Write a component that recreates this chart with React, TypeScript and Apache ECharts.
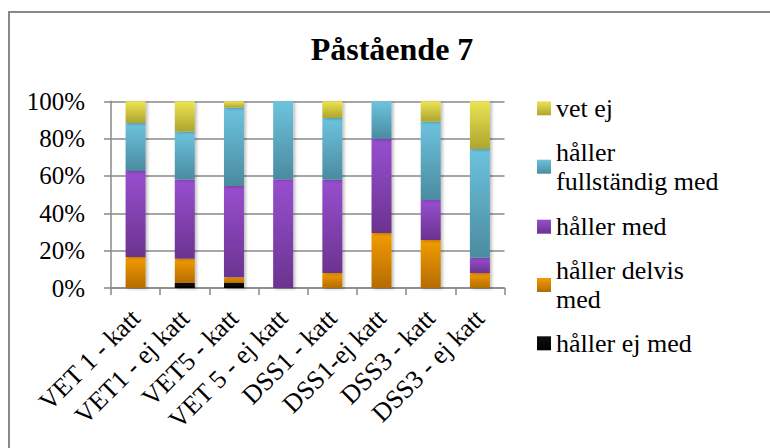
import React, { useEffect, useRef } from "react";
import * as echarts from "echarts";

const categories = [
  "VET 1 - katt",
  "VET1 - ej katt",
  "VET5 - katt",
  "VET 5 - ej katt",
  "DSS1 - katt",
  "DSS1-ej katt",
  "DSS3 - katt",
  "DSS3 - ej katt",
];

const seriesNames = [
  "håller ej med",
  "håller delvis med",
  "håller med",
  "håller fullständig med",
  "vet ej",
];

const hallerEjMed = [0, 2.7, 2.7, 0, 0, 0, 0, 0];
const hallerDelvisMed = [16.6, 12.9, 3.0, 0, 8.0, 29.5, 25.7, 8.0];
const hallerMed = [46.1, 42.5, 48.9, 58.2, 50.0, 50.3, 21.4, 8.2];
const hallerFullstandigMed = [25.7, 25.7, 42.0, 41.8, 33.1, 20.2, 42.0, 58.3];
const vetEj = [11.6, 16.3, 3.4, 0, 8.9, 0, 10.9, 25.5];

const yTicks = [0, 20, 40, 60, 80, 100];

const FONT = "Liberation Serif";

function grad(top: string, bottom: string) {
  return new echarts.graphic.LinearGradient(0, 0, 0, 1, [
    { offset: 0, color: top },
    { offset: 1, color: bottom },
  ]);
}

export default function App() {
  const ref = useRef<HTMLDivElement>(null);
  useEffect(() => {
    if (!ref.current) return;
    const chart = echarts.init(ref.current, undefined, { renderer: "svg" });
    const colors = [
      grad("#111111", "#000000"),
      grad("#f39c00", "#b56c00"),
      grad("#984fd0", "#6b338f"),
      grad("#6dc3de", "#4a8b9f"),
      grad("#ebe452", "#aea52e"),
    ];
    const values = [hallerEjMed, hallerDelvisMed, hallerMed, hallerFullstandigMed, vetEj];
    const L = 29;
    const legendTops = [328.8, 241.5, 212.2, 123.2, 93.8];
    const wrapped: Record<string, string> = {
      "håller fullständig med": "håller\nfullständig med",
      "håller delvis med": "håller delvis\nmed",
    };
    const legends = seriesNames.map((name, i) => ({
      show: true,
      orient: "vertical" as const,
      left: 537,
      top: legendTops[i],
      padding: 0,
      itemWidth: 14,
      itemHeight: 14,
      itemGap: 0,
      icon: "rect",
      selectedMode: false,
      data: [name],
      formatter: (n: string) => wrapped[n] || n,
      textStyle: {
        fontFamily: FONT,
        fontSize: 26,
        color: "#000",
        lineHeight: L,
        padding: wrapped[name] ? [L, 0, 0, 0] : 0,
      },
    }));
    chart.setOption({
      animation: false,
      backgroundColor: "#fff",
      textStyle: { fontFamily: FONT },
      title: {
        text: "Påstående 7",
        left: 387,
        top: 28,
        textAlign: "center",
        textStyle: {
          fontFamily: FONT,
          fontSize: 32,
          fontWeight: "bold",
          color: "#000",
        },
      },
      legend: legends,
      grid: {
        left: 111,
        right: 265.5,
        top: 101.3,
        bottom: 160,
        containLabel: false,
        outerBoundsMode: "none",
      },
      xAxis: {
        type: "category",
        data: categories,
        axisLine: { show: true, lineStyle: { color: "#888", width: 1.5 } },
        axisTick: { show: true, alignWithLabel: false, length: 7, lineStyle: { color: "#888", width: 1.5 } },
        axisLabel: {
          rotate: 45,
          interval: 0,
          margin: 26,
          fontFamily: FONT,
          fontSize: 26,
          color: "#000",
        },
      },
      yAxis: {
        type: "value",
        min: yTicks[0],
        max: yTicks[yTicks.length - 1],
        interval: 20,
        axisLine: { show: true, lineStyle: { color: "#888", width: 1.5 } },
        axisTick: { show: true, length: 7, lineStyle: { color: "#888", width: 1.5 } },
        splitLine: { show: true, lineStyle: { color: "#888", width: 1.5 } },
        axisLabel: {
          formatter: (v: number) => v + "%",
          margin: 26,
          fontFamily: FONT,
          fontSize: 25,
          color: "#000",
        },
      },
      graphic: [
        {
          type: "rect",
          shape: { x: 9, y: 12, width: 800, height: 500 },
          style: { fill: "none", stroke: "#888", lineWidth: 2 },
          silent: true,
          z: 100,
        },
      ],
      series: seriesNames.map((name, i) => ({
        name,
        type: "bar",
        stack: "total",
        barWidth: 20,
        data: values[i],
        itemStyle: {
          color: colors[i],
          shadowBlur: 3,
          shadowOffsetX: 2,
          shadowOffsetY: 1,
          shadowColor: "rgba(0,0,0,0.25)",
        },
      })),
    });
    return () => chart.dispose();
  }, []);
  return (
    <div
      ref={ref}
      style={{ position: "fixed", left: 0, top: 0, width: 770, height: 448 }}
    />
  );
}
